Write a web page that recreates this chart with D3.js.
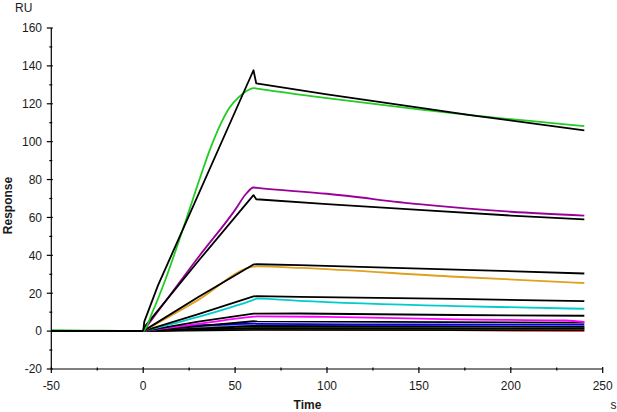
<!DOCTYPE html>
<html>
<head>
<meta charset="utf-8">
<script src="https://cdn.jsdelivr.net/npm/d3@7"></script>
<style>
  html, body { margin: 0; padding: 0; background: #fff; }
  svg { display: block; }
  text { font-family: "Liberation Sans", Arial, sans-serif; fill: #1a1a1a; }
</style>
</head>
<body>
<svg id="chart" width="617" height="412"></svg>
<script>
// ---- data (time in s, response in RU) ----
const xTicks = [-50, 0, 50, 100, 150, 200, 250];
const yTicks = [-20, 0, 20, 40, 60, 80, 100, 120, 140, 160];
const xMinor = [-25, 25, 75, 125, 175, 225];
const yMinor = [-10, 10, 30, 50, 70, 90, 110, 130, 150];

const baseline = [[-50, 0], [0, 0]];

const greenData = [[-50,0.5],[-30,0.3],[0,0],[5,10],[12,27],[22,55],[32,84],[36,95],[42,109],[47,118],[52,123.5],[56,126.6],[60,128.3],[62,128],[100,123],[150,117],[178,114],[240,108.2]];
const blackFit1 = [[0,0],[0.6,5],[8,24],[60,137.7],[61.5,130.8],[100,125],[150,118],[178,114],[240,106]];

const purpleData = [[0,0],[10,13],[30,39],[50,64],[56,72.5],[60,75.8],[62,75.6],[100,72.5],[150,67],[200,63],[240,61]];
const blackFit2 = [[0,0],[0.5,2],[30,37],[60,71.8],[61.5,69.6],[100,67],[150,64],[200,61],[240,59]];

const orangeData = [[0,0],[30,16.5],[60,34],[62,34.2],[85,33.4],[170,28.7],[240,25.4]];
const blackFit3 = [[0,0],[30,18],[60,35.2],[62,35.3],[85,34.8],[170,32.5],[240,30.4]];

const cyanData = [[0,0],[30,7.5],[60,16.5],[62,17.2],[85,16],[170,13.2],[240,11.8]];
const blackFit4 = [[0,0],[30,9],[60,18.3],[62,18.5],[85,18.1],[170,17],[240,15.8]];

const magentaData = [[0,0],[30,3.8],[60,7.6],[62,7.8],[100,7.5],[170,6.2],[230,5.6],[240,4.8]];
const blackFit5 = [[0,0],[30,5],[60,9.2],[62,9.2],[85,9.3],[170,8.5],[240,8.1]];

const blueData = [[0,0],[20,2.6],[45,3.5],[60,4.0],[62,3.8],[150,3.5],[240,3.4]];
const blackFit6 = [[0,0],[60,5.2],[62,5.1],[240,4.5]];

const lavenderData = [[0,0],[30,2],[60,3],[150,2.6],[240,2.2]];
const blackFit7 = [[0,0],[60,2.7],[240,2.3]];

const darkGreenData = [[0,0],[60,1.5],[240,1.3]];
const blackFit8 = [[0,0],[60,1.6],[240,1.4]];

const redData = [[0,0],[43,0.9],[60,0.9],[150,0.6],[240,0.1]];
const blackFit9 = [[0,0],[60,0.7],[240,0.5]];

const seriesPairs = [
  { data: redData, color: "#ff0000", fit: blackFit9 },
  { data: darkGreenData, color: "#006a00", fit: blackFit8 },
  { data: lavenderData, color: "#8c8ce6", fit: blackFit7 },
  { data: blueData, color: "#0000ee", fit: blackFit6 },
  { data: magentaData, color: "#ff00ff", fit: blackFit5 },
  { data: cyanData, color: "#00cccc", fit: blackFit4 },
  { data: orangeData, color: "#e0a020", fit: blackFit3 },
  { data: purpleData, color: "#990099", fit: blackFit2 },
  { data: greenData, color: "#22cc22", fit: blackFit1 }
];

// ---- chart ----
const svg = d3.select("#chart");
svg.append("rect").attr("width", 617).attr("height", 412).attr("fill", "#fff");

const x = d3.scaleLinear().domain([-50, 250]).range([51.3, 602.7]);
const y = d3.scaleLinear().domain([-20, 160]).range([369, 28]);

const fitLine = d3.line().x(d => x(d[0])).y(d => y(d[1]));
const dataLine = d3.line().x(d => x(d[0])).y(d => y(d[1])).curve(d3.curveMonotoneX);

const plot = svg.append("g");
seriesPairs.forEach(s => {
  plot.append("path").attr("d", dataLine(s.data)).attr("fill", "none")
    .attr("stroke", s.color).attr("stroke-width", 1.8).attr("stroke-linejoin", "round");
  plot.append("path").attr("d", fitLine(s.fit)).attr("fill", "none")
    .attr("stroke", "#000").attr("stroke-width", 1.8).attr("stroke-linejoin", "round");
});
plot.append("path").attr("d", fitLine(baseline)).attr("fill", "none")
  .attr("stroke", "#000").attr("stroke-width", 2);

// axes
const ax = svg.append("g").attr("stroke", "#000").attr("stroke-width", 1.2);
ax.append("line").attr("x1", x(-50)).attr("x2", x(-50)).attr("y1", y(160)).attr("y2", y(-20));
ax.append("line").attr("x1", x(-50)).attr("x2", x(250)).attr("y1", y(-20)).attr("y2", y(-20));

yTicks.forEach(v => {
  ax.append("line").attr("x1", x(-50) - 4.5).attr("x2", x(-50) + 1.5).attr("y1", y(v)).attr("y2", y(v));
});
yMinor.forEach(v => {
  ax.append("line").attr("x1", x(-50) - 2).attr("x2", x(-50) + 1).attr("y1", y(v)).attr("y2", y(v));
});
xTicks.forEach(v => {
  ax.append("line").attr("x1", x(v)).attr("x2", x(v)).attr("y1", y(-20) - 2).attr("y2", y(-20) + 4);
});
xMinor.forEach(v => {
  ax.append("line").attr("x1", x(v)).attr("x2", x(v)).attr("y1", y(-20) - 1.5).attr("y2", y(-20) + 1.5);
});

const lab = svg.append("g").attr("font-size", 12);
yTicks.forEach(v => {
  lab.append("text").attr("x", 42).attr("y", y(v) + 4.3).attr("text-anchor", "end").text(v);
});
xTicks.forEach(v => {
  lab.append("text").attr("x", x(v)).attr("y", 389.5).attr("text-anchor", "middle").text(v);
});

svg.append("text").attr("x", 15).attr("y", 12).attr("font-size", 12).text("RU");
svg.append("text").attr("transform", "translate(11.8,205.5) rotate(-90)")
  .attr("text-anchor", "middle").attr("font-size", 12).attr("font-weight", "bold").text("Response");
svg.append("text").attr("x", 307.5).attr("y", 409.3).attr("text-anchor", "middle")
  .attr("font-size", 12).attr("font-weight", "bold").text("Time");
svg.append("text").attr("x", 610.5).attr("y", 409.3).attr("font-size", 12).text("s");
</script>
</body>
</html>
